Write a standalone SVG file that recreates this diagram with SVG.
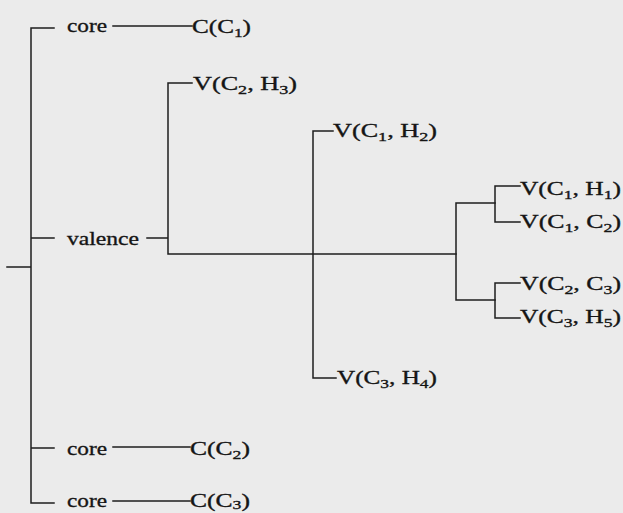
<svg xmlns="http://www.w3.org/2000/svg" width="623" height="513" viewBox="0 0 623 513">
<style>
.bg{fill:#ebebeb}
.ln{stroke:#1e1e1e;stroke-width:1.5;fill:none;stroke-linecap:square}
text{font-family:"Liberation Serif","Times New Roman",serif;font-size:19.5px;fill:#151515;stroke:#151515;stroke-width:0.35}
.s{font-size:13.5px}
</style>
<rect class="bg" x="0" y="0" width="623" height="513"/>
<g id="connectors">
<path class="ln" d="M7 267H31M31 28V503M31 28H54M31 238H54M31 448H54M31 503H54"/>
<path class="ln" d="M113 26H192M113 447H190M113 501H190"/>
<path class="ln" d="M147 238H168M168 83V254M168 83H192M168 254H456"/>
<path class="ln" d="M313 131V378M313 131H333M313 378H336"/>
<path class="ln" d="M456 203V300M456 203H495M456 300H495"/>
<path class="ln" d="M495 186V222M495 186H520M495 222H520"/>
<path class="ln" d="M495 283V318M495 283H520M495 318H520"/>
</g>
<g id="core1"><text x="67" y="32" textLength="40" lengthAdjust="spacingAndGlyphs">core</text></g>
<g id="valence"><text x="67" y="245" textLength="72" lengthAdjust="spacingAndGlyphs">valence</text></g>
<g id="core2"><text x="67" y="455" textLength="40" lengthAdjust="spacingAndGlyphs">core</text></g>
<g id="core3"><text x="67" y="507" textLength="40" lengthAdjust="spacingAndGlyphs">core</text></g>
<g id="C_C1"><text x="192" y="33" textLength="59" lengthAdjust="spacingAndGlyphs">C(C<tspan class="s" dy="4">1</tspan><tspan dy="-4">)</tspan></text></g>
<g id="C_C2"><text x="190" y="455" textLength="60" lengthAdjust="spacingAndGlyphs">C(C<tspan class="s" dy="4">2</tspan><tspan dy="-4">)</tspan></text></g>
<g id="C_C3"><text x="190" y="507" textLength="60" lengthAdjust="spacingAndGlyphs">C(C<tspan class="s" dy="2">3</tspan><tspan dy="-2">)</tspan></text></g>
<g id="V_C2_H3"><text x="193" y="90" textLength="104" lengthAdjust="spacingAndGlyphs">V(C<tspan class="s" dy="4">2</tspan><tspan dy="-4">, H</tspan><tspan class="s" dy="4">3</tspan><tspan dy="-4">)</tspan></text></g>
<g id="V_C1_H2"><text x="333" y="137" textLength="104" lengthAdjust="spacingAndGlyphs">V(C<tspan class="s" dy="4">1</tspan><tspan dy="-4">, H</tspan><tspan class="s" dy="4">2</tspan><tspan dy="-4">)</tspan></text></g>
<g id="V_C3_H4"><text x="337" y="384" textLength="100" lengthAdjust="spacingAndGlyphs">V(C<tspan class="s" dy="4">3</tspan><tspan dy="-4">, H</tspan><tspan class="s" dy="4">4</tspan><tspan dy="-4">)</tspan></text></g>
<g id="V_C1_H1"><text x="520" y="195" textLength="101" lengthAdjust="spacingAndGlyphs">V(C<tspan class="s" dy="4">1</tspan><tspan dy="-4">, H</tspan><tspan class="s" dy="4">1</tspan><tspan dy="-4">)</tspan></text></g>
<g id="V_C1_C2"><text x="520" y="228" textLength="101" lengthAdjust="spacingAndGlyphs">V(C<tspan class="s" dy="4">1</tspan><tspan dy="-4">, C</tspan><tspan class="s" dy="4">2</tspan><tspan dy="-4">)</tspan></text></g>
<g id="V_C2_C3"><text x="520" y="290" textLength="101" lengthAdjust="spacingAndGlyphs">V(C<tspan class="s" dy="4">2</tspan><tspan dy="-4">, C</tspan><tspan class="s" dy="4">3</tspan><tspan dy="-4">)</tspan></text></g>
<g id="V_C3_H5"><text x="520" y="323" textLength="101" lengthAdjust="spacingAndGlyphs">V(C<tspan class="s" dy="4">3</tspan><tspan dy="-4">, H</tspan><tspan class="s" dy="4">5</tspan><tspan dy="-4">)</tspan></text></g>
</svg>
